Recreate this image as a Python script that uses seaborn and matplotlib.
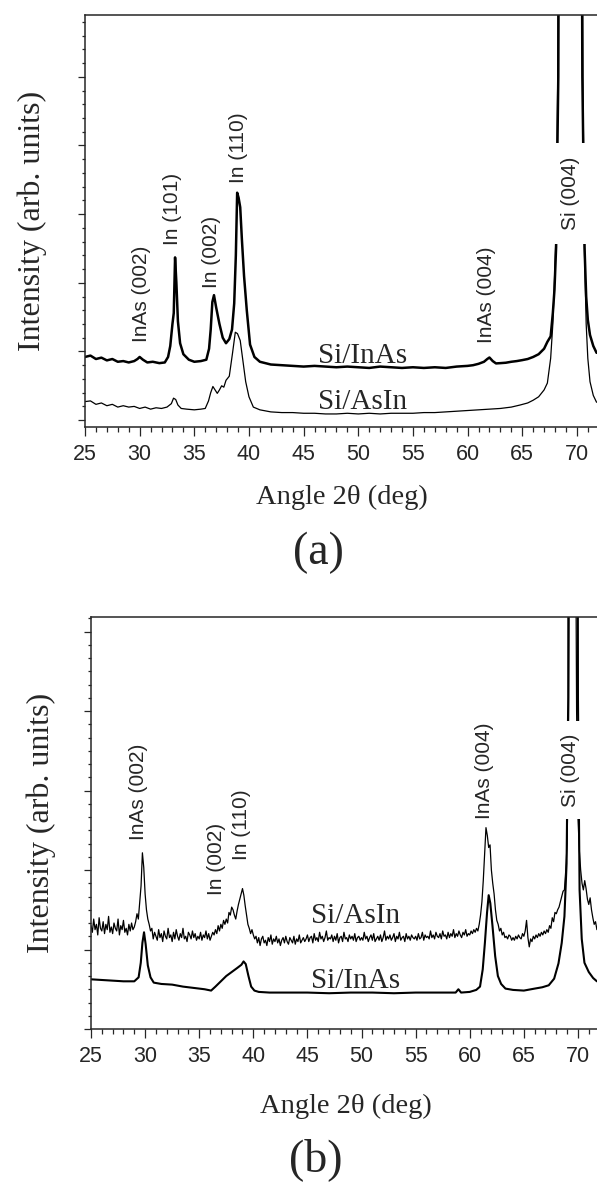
#!/usr/bin/env python3
"""
XRD scans of Si/InAs and Si/AsIn films, panels (a) and (b).
"""
import numpy as np
import matplotlib
matplotlib.use("Agg")
import matplotlib.pyplot as plt
from matplotlib.ticker import MultipleLocator
import seaborn as sns

# ----------------------------------------------------------------------
# 1. data (2theta in deg, intensity in arb. units)
# ----------------------------------------------------------------------
# (a) Si/InAs
a_inas_x = [25, 25.5, 26, 26.5, 27, 27.5, 28, 28.5, 29, 29.5, 29.8, 30.0, 30.3, 30.7,
            31.2, 31.8, 32.3, 32.6, 32.8, 33.0, 33.12, 33.24, 33.36, 33.5, 33.7, 34.0,
            34.5, 35.0, 35.6, 36.1, 36.35, 36.5, 36.65, 36.8, 37.0, 37.3, 37.6, 37.9,
            38.2, 38.45, 38.65, 38.8, 38.92, 39.05, 39.2, 39.35, 39.55, 39.8, 40.1, 40.5,
            41.0, 42, 43, 44, 45, 46, 47, 48, 49, 50, 51, 52, 53, 54, 55, 56, 57, 58, 59,
            60, 60.5, 61, 61.5, 61.8, 62.0, 62.3, 62.6, 63.0, 63.5, 64.0, 64.5, 65.0, 65.5,
            66.0, 66.5, 67.0, 67.3, 67.6, 67.8, 67.95, 68.1, 68.3, 69.4, 70.5, 70.7, 70.85,
            71.0, 71.2, 71.5, 71.8]
a_inas_y = [4.6, 4.7, 4.45, 4.55, 4.35, 4.45, 4.25, 4.3, 4.2, 4.3, 4.45, 4.6, 4.4, 4.2,
            4.25, 4.15, 4.2, 4.6, 5.4, 7.0, 7.8, 11.85, 10.0, 7.2, 5.6, 4.8,
            4.4, 4.25, 4.3, 4.4, 5.2, 6.6, 8.6, 9.1, 8.2, 7.0, 6.0, 5.6,
            5.9, 6.6, 8.5, 12.0, 16.56, 16.2, 15.5, 13.2, 10.5, 8.0, 5.5, 4.6,
            4.25, 4.05, 4.0, 3.95, 3.9, 3.95, 3.9, 3.85, 3.9, 3.85, 3.8, 3.9, 3.85, 3.8,
            3.85, 3.8, 3.85, 3.8, 3.9, 3.95, 4.0, 4.1, 4.25, 4.45, 4.56, 4.3, 4.13, 4.15,
            4.18, 4.25, 4.3, 4.37, 4.45, 4.6, 4.8, 5.2, 5.7, 6.1, 7.8, 9.5, 12.6, 25, 300,
            25, 12.6, 9.0, 7.3, 6.2, 5.4, 4.9]

# (a) Si/AsIn
a_asin_x = [25, 25.5, 26, 26.5, 27, 27.5, 28, 28.5, 29, 29.5, 30, 30.5, 31, 31.5, 32,
            32.5, 32.9, 33.1, 33.3, 33.5, 33.8, 34.3, 35, 35.6, 36.0, 36.3, 36.5, 36.7,
            36.9, 37.1, 37.3, 37.5, 37.7, 37.9, 38.2, 38.5, 38.75, 38.95, 39.2, 39.45,
            39.7, 40.0, 40.4, 41, 42, 43, 44, 45, 46, 47, 48, 49, 50, 51, 52, 53, 54, 55,
            56, 57, 58, 59, 60, 61, 62, 63, 64, 64.8, 65.5, 66.0, 66.5, 67.0, 67.3, 67.6,
            67.8, 67.95, 68.1, 68.25, 69.4, 70.55, 70.7, 70.85, 71.0, 71.2, 71.5, 71.8]
a_asin_y = [1.35, 1.4, 1.15, 1.25, 1.05, 1.15, 0.95, 1.05, 0.95, 1.0, 0.85, 0.95, 0.8,
            0.9, 0.85, 0.95, 1.2, 1.6, 1.5, 1.1, 0.85, 0.8, 0.75, 0.8, 0.85, 1.4, 2.0,
            2.45, 2.2, 1.95, 2.2, 2.5, 2.4, 2.9, 3.2, 4.9, 6.4, 6.3, 5.8, 4.3, 2.8, 1.7,
            0.95, 0.75, 0.6, 0.55, 0.55, 0.5, 0.5, 0.45, 0.45, 0.5, 0.45, 0.5, 0.45, 0.5,
            0.5, 0.5, 0.55, 0.55, 0.6, 0.65, 0.7, 0.75, 0.8, 0.85, 0.95, 1.1, 1.25, 1.45,
            1.7, 2.2, 2.7, 4.5, 7.0, 10.2, 14.0, 25, 300, 25, 12.0, 7.0, 4.5, 2.8, 1.8, 1.3]

# (b) Si/InAs
b_inas_x = [25, 26, 27, 28, 29, 29.4, 29.6, 29.75, 29.9, 30.05, 30.25, 30.5, 30.8, 31.5,
            32.5, 33.5, 34.5, 35.5, 36.1, 36.5, 37.0, 37.5, 38.0, 38.5, 38.9, 39.1, 39.3,
            39.55, 39.8, 40.1, 40.5, 41.5, 43, 45, 47, 49, 51, 53, 55, 57, 58.7, 58.95,
            59.2, 60, 60.6, 60.95, 61.2, 61.4, 61.6, 61.75, 61.9, 62.1, 62.35, 62.6, 62.9,
            63.3, 64, 65, 66, 66.7, 67.3, 67.8, 68.2, 68.5, 68.75, 68.95, 69.1, 69.55,
            70.0, 70.15, 70.35, 70.6, 71.0, 71.4, 71.75]
b_inas_y = [3.75, 3.7, 3.65, 3.6, 3.6, 3.9, 5.0, 6.5, 7.3, 6.4, 4.8, 3.9, 3.5, 3.4,
            3.35, 3.2, 3.1, 3.0, 2.9, 3.2, 3.6, 4.0, 4.3, 4.6, 4.85, 5.1, 4.9,
            4.0, 3.2, 2.9, 2.8, 2.75, 2.75, 2.75, 2.7, 2.75, 2.75, 2.7, 2.75, 2.75, 2.75, 3.0,
            2.75, 2.8, 2.95, 3.2, 4.5, 6.5, 8.8, 10.1, 9.5, 7.8, 5.5, 4.0, 3.4,
            3.05, 2.95, 2.9, 3.05, 3.15, 3.3, 3.8, 4.95, 6.5, 8.5, 12.5, 25, 300,
            25, 10.5, 6.8, 5.0, 4.3, 3.85, 3.6]

# (b) Si/AsIn, noisy scan, 0.125 deg steps from 25 deg (one row = 5 deg)
b_asin_start, b_asin_step = 25.0, 0.125
b_asin_y = [
    7.8, 7.3, 8.3, 7.5, 7.9, 7.1, 8.4, 7.6, 7.4, 8.1, 7.2, 7.9, 7.5, 8.5, 7.3, 7.7, 7.2, 8.0, 7.6, 7.4,
    8.3, 7.1, 7.8, 7.5, 8.2, 7.3, 7.6, 7.1, 7.9, 7.4, 8.0, 7.5, 7.7, 8.1, 8.7, 8.3, 9.6, 10.8, 13.3, 12.2,
    10.2, 9.0, 8.3, 7.9, 7.4, 7.6, 6.8, 7.3, 7.0, 6.7, 7.5, 6.9, 7.2, 6.6, 7.4, 7.0, 6.8, 7.6, 6.9, 7.1,
    6.6, 7.3, 6.8, 7.5, 7.0, 6.7, 7.2, 6.9, 7.6, 6.8, 7.0, 6.6, 7.3, 7.1, 6.8, 7.4, 6.9, 7.2, 6.7, 7.0,
    6.8, 7.3, 6.7, 7.1, 6.9, 7.4, 6.8, 7.2, 6.7, 7.0, 7.3, 7.1, 7.5, 7.2, 7.8, 7.4, 7.9, 7.6, 8.2, 7.9,
    8.3, 8.0, 8.8, 8.6, 9.2, 9.0, 8.6, 8.3, 8.9, 9.4, 9.8, 10.2, 10.6, 10.1, 9.3, 8.6, 7.9, 7.6, 7.2, 7.5,
    7.1, 6.8, 7.0, 6.5, 6.9, 6.3, 6.8, 7.0, 6.5, 6.7, 6.3, 6.9, 6.6, 7.1, 6.4, 6.8, 6.6, 7.0, 6.5, 6.8,
    6.3, 6.7, 6.9, 6.5, 7.0, 6.6, 6.4, 6.9, 6.7, 6.5, 7.0, 6.4, 6.8, 6.6, 7.1, 6.5, 6.7, 6.9, 6.6, 6.8,
    7.1, 6.6, 6.9, 7.0, 6.5, 7.2, 6.7, 6.9, 6.6, 7.3, 6.8, 7.0, 6.6, 6.9, 7.4, 6.7, 6.9, 6.8, 7.1, 6.6,
    7.0, 6.7, 7.2, 6.5, 6.9, 7.0, 6.6, 7.3, 6.8, 6.9, 6.6, 7.1, 6.8, 7.0, 6.7, 7.2, 6.6, 6.9, 7.0, 6.7,
    6.9, 6.7, 7.3, 6.8, 7.0, 6.6, 6.9, 7.1, 6.7, 7.2, 6.6, 6.8, 7.0, 6.7, 7.1, 6.6, 6.9, 7.4, 6.7, 7.0,
    6.8, 7.1, 6.7, 6.9, 7.2, 6.6, 7.0, 6.8, 7.3, 6.7, 6.9, 7.0, 6.6, 7.2, 6.8, 7.0, 6.7, 7.1, 6.9, 6.8,
    7.0, 6.7, 7.2, 6.8, 6.9, 7.3, 6.7, 7.1, 6.9, 7.0, 6.8, 7.4, 6.9, 7.1, 6.8, 7.3, 7.0, 6.9, 7.2, 6.8,
    7.4, 7.0, 7.1, 6.8, 7.3, 6.9, 7.2, 7.0, 7.5, 6.9, 7.2, 7.0, 7.4, 7.1, 6.9, 7.3, 7.1, 7.5, 7.0, 7.2,
    7.1, 7.4, 7.2, 7.5, 7.3, 7.6, 7.4, 7.9, 8.6, 9.6, 11.2, 13.2, 15.2, 14.6, 13.7, 13.9, 12.0, 11.0, 10.2, 9.0,
    8.2, 7.9, 7.4, 7.6, 7.1, 7.3, 6.9, 7.0, 6.8, 7.1, 7.0, 6.7, 6.9, 6.7, 7.0, 6.8, 7.1, 6.9, 6.8, 7.2,
    7.0, 7.4, 8.2, 6.9, 6.2, 6.8, 6.6, 7.0, 6.8, 7.1, 6.9, 7.2, 7.0, 7.3, 7.1, 7.4, 7.2, 7.5, 7.3, 7.8,
    7.6, 8.4, 8.1, 8.8, 8.7, 9.0, 9.2, 9.6, 10.0, 10.4, 10.5, 12.0, 14.0, 22, 45, 120, 300, 120, 45, 24,
    16.0, 13.5, 12.0, 11.0, 10.5, 11.2, 10.6, 9.8, 9.4, 9.9, 9.0, 8.4, 7.9, 8.1, 7.5,
]
b_asin_x = b_asin_start + b_asin_step * np.arange(len(b_asin_y))

# peak labels: (text, 2theta, intensity at label foot)
a_peaks = [("InAs (002)", 30.2, 5.7), ("In (101)", 33.05, 12.75),
           ("In (002)", 36.6, 9.6), ("In (110)", 39.0, 17.3),
           ("InAs (004)", 61.7, 5.6)]
b_peaks = [("InAs (002)", 29.35, 14.3), ("In (002)", 36.6, 10.1),
           ("In (110)", 38.9, 12.75), ("InAs (004)", 61.4, 15.85)]

# ----------------------------------------------------------------------
# 2. style
# ----------------------------------------------------------------------
sns.set_style("ticks")
plt.rcParams["font.family"] = ["Liberation Sans", "DejaVu Sans"]
SERIF = ["Liberation Serif", "DejaVu Serif"]
plt.rcParams["axes.linewidth"] = 1.1

fig = plt.figure(figsize=(5.97, 11.84), dpi=100)
W, H = 597, 1184
ax_a = fig.add_axes([85 / W, 1 - 427 / H, 1 - 85 / W, 412 / H])
ax_b = fig.add_axes([91 / W, 1 - 1029 / H, 1 - 91 / W, 412 / H])


def style_axes(ax, xmax, ylim, ymajor):
    ax.set_xlim(25, xmax)
    ax.set_ylim(*ylim)
    ax.xaxis.set_major_locator(MultipleLocator(5))
    ax.xaxis.set_minor_locator(MultipleLocator(1))
    ax.yaxis.set_major_locator(MultipleLocator(ymajor))
    ax.yaxis.set_minor_locator(MultipleLocator(1))
    ax.tick_params(axis="x", which="major", length=6.5, width=0.9, pad=6,
                   labelsize=15.5, direction="out")
    ax.tick_params(axis="x", which="minor", length=3.5, width=0.9, direction="out")
    ax.tick_params(axis="y", which="major", length=5.3, width=0.9,
                   labelleft=False, direction="out")
    ax.tick_params(axis="y", which="minor", length=2.4, width=0.9, direction="out")
    ax.spines["right"].set_visible(False)
    ax.set_facecolor("white")


# ----------------------------------------------------------------------
# 3. panel (a)
# ----------------------------------------------------------------------
sns.lineplot(x=a_inas_x, y=a_inas_y, ax=ax_a, color="black", linewidth=1.8,
             estimator=None, sort=False)
sns.lineplot(x=a_asin_x, y=a_asin_y, ax=ax_a, color="black", linewidth=0.9,
             estimator=None, sort=False)
style_axes(ax_a, 71.84, (-0.5, 29.5), 5)

for txt, x, y in a_peaks:
    ax_a.text(x, y, txt, rotation=90, ha="center", va="bottom", fontsize=15)
ax_a.text(69.4, 16.5, "Si (004)", rotation=90, ha="center", va="center", fontsize=15,
          bbox=dict(facecolor="white", edgecolor="none", pad=10))
ax_a.text(46.3, 4.17, "Si/InAs", fontsize=21, family=SERIF, ha="left", va="baseline")
ax_a.text(46.3, 0.78, "Si/AsIn", fontsize=21, family=SERIF, ha="left", va="baseline")

ax_a.set_xlabel("Angle 2\u03b8 (deg)", fontsize=20.5, family=SERIF, va="center")
ax_a.xaxis.set_label_coords(0.502, -0.17)
ax_a.set_ylabel("Intensity (arb. units)", fontsize=23, family=SERIF, va="center")
ax_a.yaxis.set_label_coords(-0.104, 0.5)

# ----------------------------------------------------------------------
# 4. panel (b)
# ----------------------------------------------------------------------
sns.lineplot(x=b_asin_x, y=b_asin_y, ax=ax_b, color="black", linewidth=0.9,
             estimator=None, sort=False)
sns.lineplot(x=b_inas_x, y=b_inas_y, ax=ax_b, color="black", linewidth=1.5,
             estimator=None, sort=False)
style_axes(ax_b, 71.76, (0, 31.1), 6)

for txt, x, y in b_peaks:
    ax_b.text(x, y, txt, rotation=90, ha="center", va="bottom", fontsize=15)
ax_b.text(69.3, 19.55, "Si (004)", rotation=90, ha="center", va="center", fontsize=15,
          bbox=dict(facecolor="white", edgecolor="none", pad=8.5))
ax_b.text(45.3, 8.0, "Si/AsIn", fontsize=21, family=SERIF, ha="left", va="baseline")
ax_b.text(45.3, 3.1, "Si/InAs", fontsize=21, family=SERIF, ha="left", va="baseline")

ax_b.set_xlabel("Angle 2\u03b8 (deg)", fontsize=20.5, family=SERIF, va="center")
ax_b.xaxis.set_label_coords(0.504, -0.189)
ax_b.set_ylabel("Intensity (arb. units)", fontsize=23, family=SERIF, va="center")
ax_b.yaxis.set_label_coords(-0.099, 0.5)

# panel letters
fig.text(318 / W, 1 - 553 / H, "(a)", fontsize=33, family=SERIF, ha="center", va="center")
fig.text(316 / W, 1 - 1160 / H, "(b)", fontsize=33, family=SERIF, ha="center", va="center")

fig.savefig("out.png", dpi=100, facecolor="white")
plt.close(fig)
